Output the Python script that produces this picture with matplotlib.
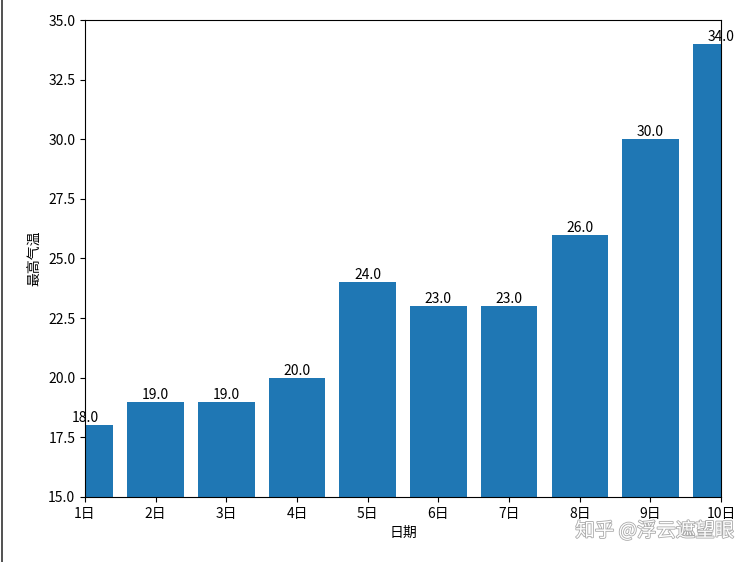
import matplotlib
matplotlib.use('Agg')
import matplotlib.pyplot as plt
import matplotlib.patheffects as pe
from matplotlib.lines import Line2D

plt.rcParams['font.family'] = ['Noto Sans CJK SC', 'DejaVu Sans']
plt.rcParams['axes.unicode_minus'] = False

days = [1, 2, 3, 4, 5, 6, 7, 8, 9, 10]
day_labels = ['1日', '2日', '3日', '4日', '5日', '6日', '7日', '8日', '9日', '10日']
max_temp = [18, 19, 19, 20, 24, 23, 23, 26, 30, 34]

fig = plt.figure(figsize=(7.52, 5.62), dpi=100)
ax = fig.add_axes([0.113, 0.1157, 0.846, 0.8487])

bars = ax.bar(days, max_temp, width=0.8, color='#1f77b4')
for d, t in zip(days, max_temp):
    ax.text(d, t, '%.1f' % t, ha='center', va='bottom', fontsize=10)

ax.set_xlim(1, 10)
ax.set_ylim(15, 35)
ax.set_xticks(days)
ax.set_xticklabels(day_labels)
ax.set_xlabel('日期')
ax.set_ylabel('最高气温')

# watermark
fig.text(0.977, 0.055, '知乎 @浮云遮望眼', ha='right', va='center', fontsize=14,
         color='white', path_effects=[pe.withStroke(linewidth=1.2, foreground='#aaaaaa')])

# left border of the screenshot
fig.add_artist(Line2D([0.002, 0.002], [0, 1], color='#333333', linewidth=1.2))

plt.savefig('out.png', dpi=100)
